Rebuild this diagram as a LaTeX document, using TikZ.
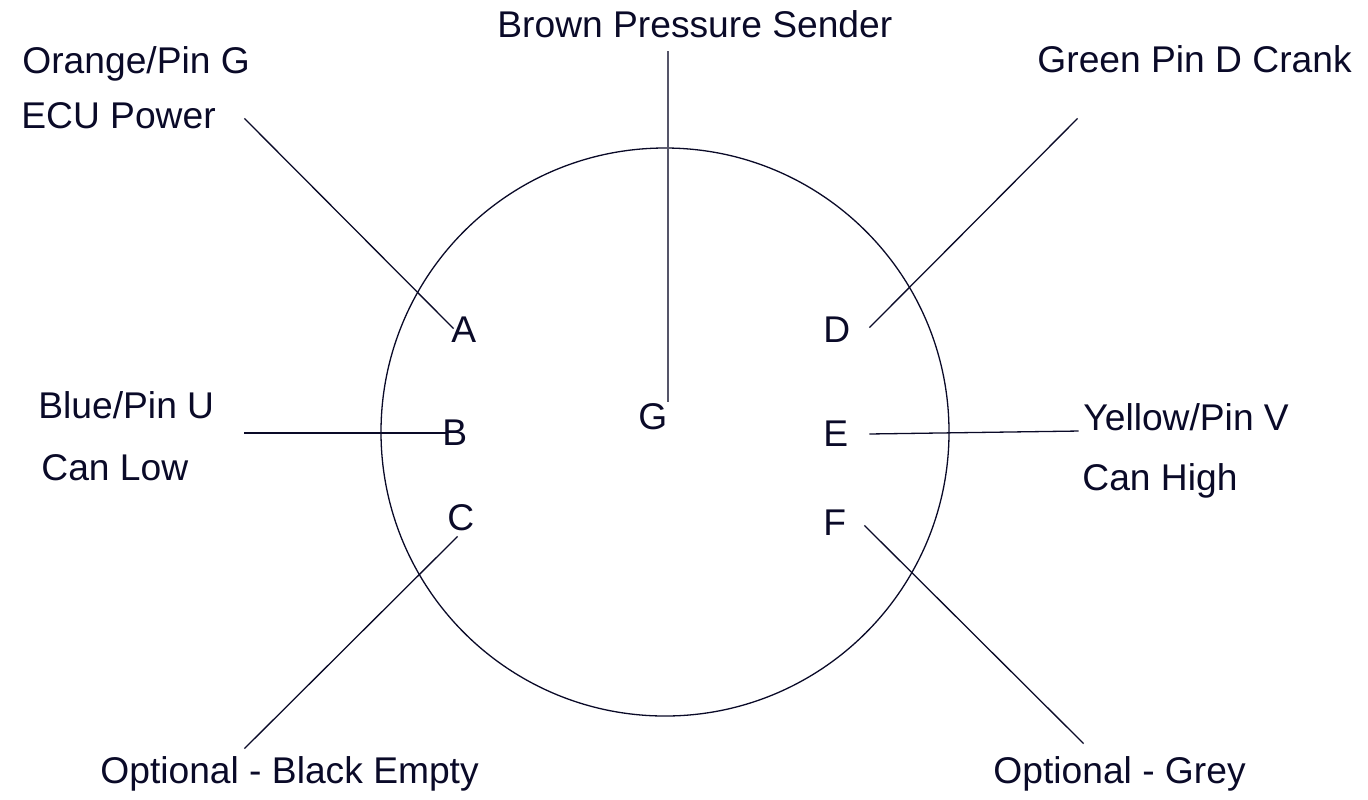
\documentclass[tikz,border=0pt]{standalone}
\usepackage{fontspec}
\setmainfont{Liberation Sans}
\usepackage{tikz}
\definecolor{ink}{RGB}{10,10,40}
\definecolor{greyline}{RGB}{85,85,105}
\pgfdeclarelayer{edgelayer}
\pgfdeclarelayer{nodelayer}
\pgfsetlayers{edgelayer,nodelayer,main}
\tikzstyle{none}=[inner sep=0pt]
\tikzstyle{label}=[inner sep=0pt, anchor=base west, text=ink, font=\fontsize{18.6}{22}\selectfont]
\tikzstyle{wire}=[draw=ink, line width=0.65pt]
\tikzstyle{sender}=[draw=greyline, line width=1pt]

\begin{document}
\begin{tikzpicture}[x=0.5pt, y=-0.5pt]
			\useasboundingbox (0,0) rectangle (1368,799);
			\begin{pgfonlayer}{nodelayer}
			\node [style=label] (1) at (22, 73) {Orange/Pin G};
			\node [style=label] (2) at (21, 128) {ECU Power};
			\node [style=label] (3) at (497, 37) {Brown Pressure Sender};
			\node [style=label] (4) at (1037, 72) {Green Pin D Crank};
			\node [style=label] (5) at (38, 418) {Blue/Pin U};
			\node [style=label] (6) at (41, 480) {Can Low};
			\node [style=label] (7) at (1083, 430) {Yellow/Pin V};
			\node [style=label] (8) at (1082, 490) {Can High};
			\node [style=label] (9) at (100, 783) {Optional - Black Empty};
			\node [style=label] (10) at (993, 783) {Optional - Grey};
			\node [style=label] (11) at (451, 342) {A};
			\node [style=label] (12) at (442, 445) {B};
			\node [style=label] (13) at (447, 530) {C};
			\node [style=label] (14) at (823, 342) {D};
			\node [style=label] (15) at (823, 446) {E};
			\node [style=label] (16) at (823, 535) {F};
			\node [style=label] (17) at (638, 429) {G};
			\node [style=none] (20) at (665, 432) {};
			\node [style=none] (21) at (243, 117) {};
			\node [style=none] (22) at (455, 330) {};
			\node [style=none] (23) at (243, 433) {};
			\node [style=none] (24) at (447, 433) {};
			\node [style=none] (25) at (459, 535) {};
			\node [style=none] (26) at (243, 750) {};
			\node [style=none] (27) at (1079, 117) {};
			\node [style=none] (28) at (868, 329) {};
			\node [style=none] (29) at (868, 434) {};
			\node [style=none] (30) at (1080, 431) {};
			\node [style=none] (31) at (863, 524) {};
			\node [style=none] (32) at (1085, 745) {};
			\node [style=none] (33) at (668, 50) {};
			\node [style=none] (34) at (668, 403) {};
			\end{pgfonlayer}
			\begin{pgfonlayer}{edgelayer}
			\draw [style=wire] (20) circle [radius=142pt];
			\draw [style=wire] (21) to (22);
			\draw [style=wire] (23) to (24);
			\draw [style=wire] (25) to (26);
			\draw [style=wire] (27) to (28);
			\draw [style=wire] (29) to (30);
			\draw [style=wire] (31) to (32);
			\draw [style=sender] (33) to (34);
			\end{pgfonlayer}
\end{tikzpicture}
\end{document}
